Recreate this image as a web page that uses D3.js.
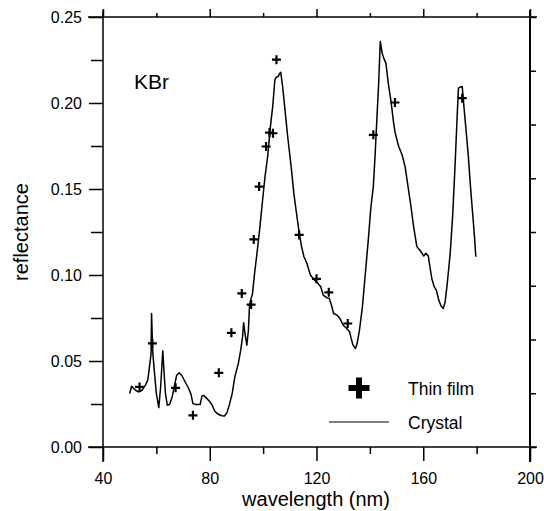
<!DOCTYPE html>
<html>
<head>
<meta charset="utf-8">
<script src="https://cdn.jsdelivr.net/npm/d3@7"></script>
<style>
    body { margin: 0; background: #fff; }
    text { font-family: "Liberation Sans", Arial, sans-serif; fill: #000; }
</style>
</head>
<body>
<svg id="chart" width="544" height="511"></svg>
<script>
// crystal reflectance curve
const crystalNm = [50.0, 50.7, 52.2, 53.3, 54.6, 55.9, 56.8, 57.4, 58.0, 58.2, 58.6, 59.3, 60.0, 60.9, 61.6, 62.4, 62.9, 63.4, 64.1, 65.0,
    65.9, 66.7, 67.6, 68.5, 69.5, 70.8, 72.1, 73.0, 73.7, 74.7, 76.4, 77.1, 77.7, 78.6, 79.9, 80.9, 81.9, 83.2, 84.5, 85.5,
    86.4, 87.3, 88.4, 89.4, 90.7, 91.6, 92.3, 92.7, 93.2, 93.9, 94.5, 94.9, 95.3, 96.0, 96.8, 97.7, 98.8, 99.8, 100.7, 101.7,
    102.7, 103.6, 104.4, 104.9, 105.7, 106.1, 106.6, 107.3, 108.2, 109.2, 110.5, 111.5, 112.5, 113.4, 114.4, 115.3, 116.4, 117.7, 119.0, 120.3,
    121.6, 122.5, 123.8, 124.8, 125.7, 126.4, 127.7, 129.0, 130.0, 131.3, 132.4, 133.0, 133.7, 134.6, 135.2, 136.1, 137.2, 138.2, 139.4, 140.4,
    141.3, 142.0, 142.6, 143.3, 143.9, 144.6, 145.2, 146.0, 146.9, 148.0, 148.9, 149.5, 150.8, 152.1, 153.2, 154.3, 155.4, 156.4, 157.6, 158.9,
    160.2, 161.0, 161.9, 162.5, 163.2, 164.1, 164.9, 165.8, 166.7, 167.5, 168.2, 169.0, 170.1, 171.0, 171.9, 172.7, 173.2, 173.9, 174.6, 174.9,
    175.8, 176.8, 177.7, 178.5, 179.2, 179.7];
const crystalR = [0.031, 0.0353, 0.033, 0.032, 0.033, 0.036, 0.039, 0.0466, 0.054, 0.0776, 0.056, 0.043, 0.031, 0.0229, 0.035, 0.056, 0.043, 0.031, 0.0243, 0.0248,
    0.029, 0.035, 0.0417, 0.0431, 0.0417, 0.0378, 0.034, 0.0305, 0.0252, 0.0247, 0.0247, 0.0297, 0.030, 0.0287, 0.0266, 0.0243, 0.0208, 0.019, 0.0182, 0.018,
    0.0198, 0.0243, 0.031, 0.0408, 0.0485, 0.0563, 0.064, 0.0722, 0.066, 0.0592, 0.068, 0.0825, 0.0854, 0.089, 0.101, 0.1126, 0.128, 0.1436, 0.157, 0.169,
    0.186, 0.198, 0.2135, 0.215, 0.2155, 0.217, 0.2178, 0.2096, 0.196, 0.1805, 0.163, 0.1476, 0.1359, 0.126, 0.1165, 0.1106, 0.1068, 0.100, 0.0974, 0.0955,
    0.0932, 0.0883, 0.0868, 0.0864, 0.082, 0.0776, 0.0767, 0.0741, 0.0708, 0.0689, 0.067, 0.063, 0.0592, 0.0573, 0.060, 0.0679, 0.0815, 0.099, 0.1203, 0.1398,
    0.1514, 0.171, 0.190, 0.2116, 0.2358, 0.229, 0.2261, 0.2232, 0.2116, 0.200, 0.1883, 0.1825, 0.1747, 0.1698, 0.163, 0.1514, 0.1398, 0.128, 0.1165, 0.1141,
    0.111, 0.1126, 0.111, 0.1048, 0.098, 0.0932, 0.0912, 0.0854, 0.082, 0.0805, 0.0844, 0.0951, 0.1126, 0.1339, 0.163, 0.1922, 0.2087, 0.2093, 0.2096, 0.204,
    0.1883, 0.171, 0.1514, 0.1359, 0.1223, 0.1106];

// thin film points
const filmNm = [53.7, 58.5, 67.2, 73.7, 83.4, 88.1, 92.0, 95.5, 96.5, 98.5, 101.1, 102.4, 103.7, 105.0, 113.5, 120.0, 124.6, 131.7, 141.3, 149.4, 174.6];
const filmR = [0.0349, 0.0602, 0.0344, 0.0184, 0.0431, 0.0664, 0.0893, 0.0828, 0.1207, 0.1514, 0.1747, 0.1828, 0.1824, 0.2252, 0.1233, 0.0978, 0.0899, 0.0718, 0.1815, 0.2003, 0.2028];

const xMajor = [40, 80, 120, 160, 200];
const xMinor = [60, 100, 140, 180];
const yMajor = [0, 0.05, 0.10, 0.15, 0.20, 0.25];
const yMinor = [0.025, 0.075, 0.125, 0.175, 0.225];
const rightTicks = [0, 1, 2, 3, 4, 5, 6, 7, 8];

const svg = d3.select('#chart');

const x = d3.scaleLinear().domain([40, 200]).range([103, 530]);
const y = d3.scaleLinear().domain([0, 0.25]).range([447, 17]);
const yRight = d3.scaleLinear().domain([0, 8]).range([447, 17]);

function tidy(g, size) {
    g.select('.domain').remove();
    g.attr('font-family', null).attr('font-size', size);
    g.selectAll('line').attr('stroke', '#000').attr('stroke-width', 1.5);
}

// bottom axis
svg.append('g').attr('transform', 'translate(0,447)')
    .call(d3.axisBottom(x).tickValues(xMajor).tickSize(14).tickPadding(12).tickFormat(d3.format('d')))
    .call(g => tidy(g, 16));
svg.append('g').attr('transform', 'translate(0,447)')
    .call(d3.axisBottom(x).tickValues(xMinor).tickSize(7).tickFormat(''))
    .call(g => tidy(g, 16));

// top axis
svg.append('g').attr('transform', 'translate(0,17)')
    .call(d3.axisTop(x).tickValues(xMajor).tickSize(8).tickFormat(''))
    .call(g => tidy(g, 16));
svg.append('g').attr('transform', 'translate(0,17)')
    .call(d3.axisTop(x).tickValues(xMinor).tickSize(4).tickFormat(''))
    .call(g => tidy(g, 16));

// left axis
svg.append('g').attr('transform', 'translate(103,0)')
    .call(d3.axisLeft(y).tickValues(yMajor).tickSize(14).tickPadding(7).tickFormat(d3.format('.2f')))
    .call(g => tidy(g, 16));
svg.append('g').attr('transform', 'translate(103,0)')
    .call(d3.axisLeft(y).tickValues(yMinor).tickSize(12).tickFormat(''))
    .call(g => tidy(g, 16));

// right axis (unlabelled ticks)
svg.append('g').attr('transform', 'translate(530,0)')
    .call(d3.axisRight(yRight).tickValues(rightTicks).tickSize(6).tickFormat(''))
    .call(g => tidy(g, 16));

// frame
const frame = svg.append('g').attr('stroke', '#000').attr('stroke-width', 1.5);
frame.append('line').attr('x1', 103).attr('x2', 103).attr('y1', 10).attr('y2', 462);
frame.append('line').attr('x1', 530).attr('x2', 530).attr('y1', 10).attr('y2', 462).attr('stroke-width', 2);
frame.append('line').attr('x1', 88).attr('x2', 537).attr('y1', 17).attr('y2', 17);
frame.append('line').attr('x1', 88).attr('x2', 537).attr('y1', 447).attr('y2', 447);

// crystal curve
const line = d3.line().x(d => x(d[0])).y(d => y(d[1]));
svg.append('path')
    .datum(crystalNm.map((v, i) => [v, crystalR[i]]))
    .attr('d', line)
    .attr('fill', 'none')
    .attr('stroke', '#000')
    .attr('stroke-width', 1.5)
    .attr('stroke-linejoin', 'round');

// thin film crosses
svg.append('g').selectAll('path')
    .data(filmNm.map((v, i) => [v, filmR[i]]))
    .join('path')
    .attr('transform', d => `translate(${x(d[0])},${y(d[1])})`)
    .attr('d', 'M-4.5,0H4.5M0,-4.5V4.5')
    .attr('stroke', '#000')
    .attr('stroke-width', 2.2);

// titles
svg.append('text').attr('x', 316).attr('y', 506).attr('text-anchor', 'middle')
    .attr('font-size', 20).text('wavelength (nm)');
svg.append('text').attr('transform', 'translate(28,232) rotate(-90)').attr('text-anchor', 'middle')
    .attr('font-size', 20).text('reflectance');
svg.append('text').attr('x', 134).attr('y', 89).attr('font-size', 21).text('KBr');

// legend
svg.append('path').attr('transform', 'translate(359,388)')
    .attr('d', 'M-10.5,0H10.5M0,-10.5V10.5')
    .attr('stroke', '#000').attr('stroke-width', 6);
svg.append('text').attr('x', 408).attr('y', 395).attr('font-size', 17.5).text('Thin film');
svg.append('line').attr('x1', 329).attr('x2', 389).attr('y1', 422).attr('y2', 422)
    .attr('stroke', '#000').attr('stroke-width', 1.2);
svg.append('text').attr('x', 408).attr('y', 429).attr('font-size', 17.5).text('Crystal');
</script>
</body>
</html>
